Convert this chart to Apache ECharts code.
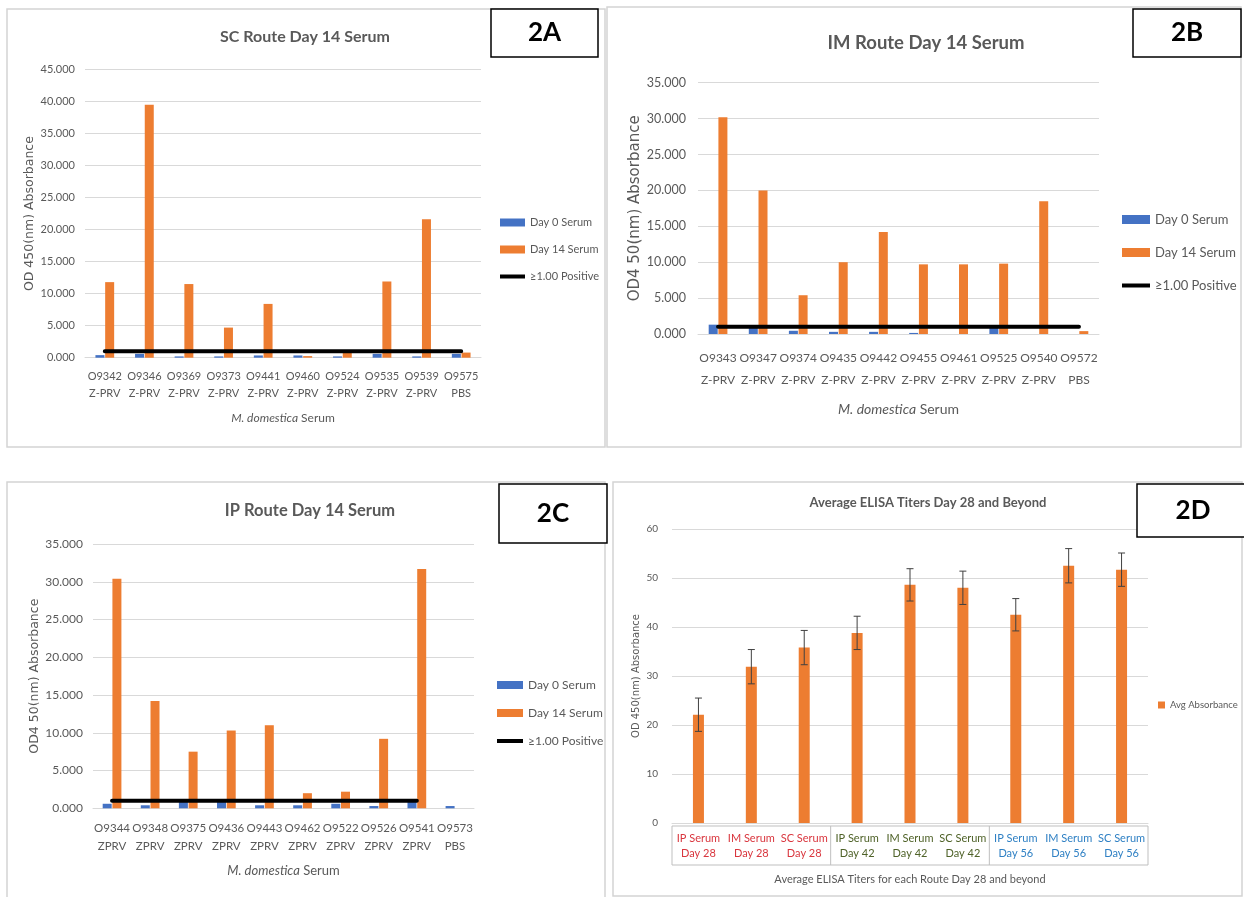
<!DOCTYPE html>
<html><head><meta charset="utf-8">
<script src="https://cdn.jsdelivr.net/npm/echarts@6/dist/echarts.min.js"></script>
<style>html,body{margin:0;padding:0;background:#fff}#c{width:1244px;height:897px}</style>
</head><body><div id="c"></div><script>
// ---------- DATA ----------
const catsA = ['O9342\nZ-PRV','O9346\nZ-PRV','O9369\nZ-PRV','O9373\nZ-PRV','O9441\nZ-PRV','O9460\nZ-PRV','O9524\nZ-PRV','O9535\nZ-PRV','O9539\nZ-PRV','O9575\nPBS'];
const day0A  = [0.4, 0.6, 0.2, 0.2, 0.35, 0.35, 0.2, 0.6, 0.2, 0.6];
const day14A = [11.8, 39.5, 11.5, 4.7, 8.4, 0.25, 1.1, 11.9, 21.6, 0.8];
const posA   = [1, 1, 1, 1, 1, 1, 1, 1, 1, 1];

const catsB = ['O9343\nZ-PRV','O9347\nZ-PRV','O9374\nZ-PRV','O9435\nZ-PRV','O9442\nZ-PRV','O9455\nZ-PRV','O9461\nZ-PRV','O9525\nZ-PRV','O9540\nZ-PRV','O9572\nPBS'];
const day0B  = [1.3, 0.9, 0.45, 0.3, 0.3, 0.15, 0, 0.9, 0, 0];
const day14B = [30.2, 20.0, 5.4, 10.0, 14.2, 9.7, 9.7, 9.8, 18.5, 0.4];
const posB   = [1, 1, 1, 1, 1, 1, 1, 1, 1, 1];

const catsC = ['O9344\nZPRV','O9348\nZPRV','O9375\nZPRV','O9436\nZPRV','O9443\nZPRV','O9462\nZPRV','O9522\nZPRV','O9526\nZPRV','O9541\nZPRV','O9573\nPBS'];
const day0C  = [0.6, 0.4, 0.9, 0.9, 0.4, 0.4, 0.6, 0.3, 0.9, 0.3];
const day14C = [30.4, 14.2, 7.5, 10.3, 11.0, 2.0, 2.2, 9.2, 31.7, 0];
const posC   = [1, 1, 1, 1, 1, 1, 1, 1, 1, null];

const catsD  = ['IP Serum\nDay 28','IM Serum\nDay 28','SC Serum\nDay 28','IP Serum\nDay 42','IM Serum\nDay 42','SC Serum\nDay 42','IP Serum\nDay 56','IM Serum\nDay 56','SC Serum\nDay 56'];
const avgD   = [22.1, 31.9, 35.8, 38.8, 48.6, 48.0, 42.5, 52.5, 51.7];
const errD   = [3.4, 3.5, 3.5, 3.4, 3.3, 3.4, 3.3, 3.5, 3.4];

// ---------- STYLE ----------
const FONT = 'Lato, "Open Sans", sans-serif';
const NFONT = '"DejaVu Sans", sans-serif';
const GRAY = '#595959';
const GRID = '#d9d9d9';
const BLUE = '#4472C4', ORANGE = '#ED7D31';

function catAxis(gi, data, size, lh, margin, nameSize, nameGap) {
  return {
    type: 'category', gridIndex: gi, data: data,
    axisLine: { lineStyle: { color: GRID, width: 1 } },
    axisTick: { show: false },
    axisLabel: { color: GRAY, fontFamily: FONT, fontSize: size, lineHeight: lh, margin: margin, interval: 0 },
    name: '{i|M. domestica} Serum', nameLocation: 'middle', nameGap: nameGap,
    nameTextStyle: { color: GRAY, fontFamily: FONT, fontSize: nameSize,
      rich: { i: { fontStyle: 'italic', color: GRAY, fontFamily: FONT, fontSize: nameSize } } }
  };
}
function valAxis(gi, max, interval, name, nameSize, nameGap, size, margin, dec) {
  return {
    type: 'value', gridIndex: gi, min: 0, max: max, interval: interval,
    axisLine: { show: false }, axisTick: { show: false },
    splitLine: { lineStyle: { color: GRID, width: 1 } },
    axisLabel: { color: GRAY, fontFamily: FONT, fontSize: size, margin: margin,
      formatter: v => v.toFixed(dec) },
    name: name, nameLocation: 'middle', nameGap: nameGap,
    nameTextStyle: { color: GRAY, fontFamily: NFONT, fontSize: nameSize }
  };
}
function barsFor(gi, d0, d14, pos) {
  return [
    { name: 'Day 0 Serum', type: 'bar', xAxisIndex: gi, yAxisIndex: gi, data: d0,
      barWidth: 9, barGap: '8%', itemStyle: { color: BLUE } },
    { name: 'Day 14 Serum', type: 'bar', xAxisIndex: gi, yAxisIndex: gi, data: d14,
      barWidth: 9, barGap: '8%', itemStyle: { color: ORANGE } },
    { name: '≥1.00 Positive', type: 'line', xAxisIndex: gi, yAxisIndex: gi, data: pos,
      symbol: 'none', z: 5, color: '#000', lineStyle: { color: '#000', width: 4, cap: 'round' } }
  ];
}
function legendFor(left, top, w, h, gap, size) {
  const lineIcon = 'path://M0,0h' + w + 'v4h-' + w + 'z';
  return {
    orient: 'vertical', left: left, top: top, padding: 0, itemGap: gap,
    itemWidth: w, itemHeight: h, selectedMode: false,
    textStyle: { color: GRAY, fontFamily: FONT, fontSize: size },
    data: [ { name: 'Day 0 Serum', icon: 'rect' }, { name: 'Day 14 Serum', icon: 'rect' },
            { name: '≥1.00 Positive', icon: lineIcon, itemStyle: { color: '#000' } } ]
  };
}
const dayColors = ['#d9363e', '#4f6228', '#2f80c4'];

const option = {
  animation: false,
  backgroundColor: '#fff',
  title: [
    { text: 'SC Route Day 14 Serum', left: 305, top: 29, textAlign: 'center', padding: 0,
      textStyle: { color: GRAY, fontFamily: FONT, fontWeight: 'bold', fontSize: 16 } },
    { text: 'IM Route Day 14 Serum', left: 926, top: 34, textAlign: 'center', padding: 0,
      textStyle: { color: GRAY, fontFamily: FONT, fontWeight: 'bold', fontSize: 18.5 } },
    { text: 'IP Route Day 14 Serum', left: 310, top: 502, textAlign: 'center', padding: 0,
      textStyle: { color: GRAY, fontFamily: FONT, fontWeight: 'bold', fontSize: 16.5 } },
    { text: 'Average ELISA Titers Day 28 and Beyond', left: 928, top: 496, textAlign: 'center', padding: 0,
      textStyle: { color: GRAY, fontFamily: FONT, fontWeight: 'bold', fontSize: 13 } }
  ],
  legend: [
    legendFor(500, 217, 25, 8, 16, 11),
    legendFor(1122, 213, 28, 9, 20, 13),
    legendFor(497, 679, 26, 8, 16, 12),
    { orient: 'vertical', left: 1158, top: 700, padding: 0, itemWidth: 7, itemHeight: 7,
      selectedMode: false, textStyle: { color: GRAY, fontFamily: FONT, fontSize: 9.5 },
      data: [{ name: 'Avg Absorbance', icon: 'rect' }] }
  ],
  grid: [
    { left: 85, top: 69.5, width: 396, height: 288.2 },
    { left: 698, top: 82.7, width: 401, height: 251.3 },
    { left: 93, top: 544, width: 381, height: 264.3 },
    { left: 672, top: 529, width: 476, height: 294 }
  ],
  xAxis: [
    catAxis(0, catsA, 11, 17, 10, 12, 54),
    catAxis(1, catsB, 12, 22, 13, 14, 68),
    catAxis(2, catsC, 11.5, 18, 11, 13, 56),
    { type: 'category', gridIndex: 3, data: catsD,
      axisLine: { lineStyle: { color: GRID } }, axisTick: { show: false },
      axisLabel: { interval: 0, margin: 8, fontFamily: FONT, fontSize: 11, lineHeight: 15,
        formatter: (v, i) => v.split('\n').map(s => '{c' + Math.floor(i / 3) + '|' + s + '}').join('\n'),
        rich: { c0: { color: dayColors[0], fontFamily: FONT, fontSize: 11, lineHeight: 15 },
                c1: { color: dayColors[1], fontFamily: FONT, fontSize: 11, lineHeight: 15 },
                c2: { color: dayColors[2], fontFamily: FONT, fontSize: 11, lineHeight: 15 } } },
      name: 'Average ELISA Titers for each Route Day 28 and beyond', nameLocation: 'middle', nameGap: 51,
      nameTextStyle: { color: GRAY, fontFamily: FONT, fontSize: 11 } }
  ],
  yAxis: [
    valAxis(0, 45, 5, 'OD 450(nm) Absorbance', 12.5, 47, 11, 10, 3),
    valAxis(1, 35, 5, 'OD4 50(nm) Absorbance', 15, 54, 12.5, 12, 3),
    valAxis(2, 35, 5, 'OD4 50(nm) Absorbance', 12.5, 52, 12, 10, 3),
    valAxis(3, 60, 10, 'OD 450(nm) Absorbance', 10, 31, 10, 14, 0)
  ],
  series: [
    ...barsFor(0, day0A, day14A, posA),
    ...barsFor(1, day0B, day14B, posB),
    ...barsFor(2, day0C, day14C, posC),
    { name: 'Avg Absorbance', type: 'bar', xAxisIndex: 3, yAxisIndex: 3, data: avgD,
      barWidth: 11, itemStyle: { color: ORANGE } },
    { name: 'err', type: 'custom', xAxisIndex: 3, yAxisIndex: 3, z: 5,
      data: avgD.map((v, i) => [i, v, errD[i]]),
      encode: { x: 0, y: 1 },
      renderItem: function (params, api) {
        const x = api.value(0), y = api.value(1), e = api.value(2);
        const hi = api.coord([x, y + e]), lo = api.coord([x, y - e]);
        const w = 3.5, st = { stroke: '#404040', lineWidth: 1 };
        return { type: 'group', children: [
          { type: 'line', shape: { x1: hi[0], y1: hi[1], x2: lo[0], y2: lo[1] }, style: st },
          { type: 'line', shape: { x1: hi[0] - w, y1: hi[1], x2: hi[0] + w, y2: hi[1] }, style: st },
          { type: 'line', shape: { x1: lo[0] - w, y1: lo[1], x2: lo[0] + w, y2: lo[1] }, style: st }
        ] };
      } }
  ]
};

const chart = echarts.init(document.getElementById('c'), null, { renderer: 'canvas' });
chart.setOption(option);

// ---------- decorations: panel frames, panel tags, 2D label box ----------
function frame(x, y, w, h) {
  return { type: 'rect', z: -10, shape: { x: x, y: y, width: w, height: h },
    style: { fill: null, stroke: '#d4d4d4', lineWidth: 1.5 } };
}
function tag(text, x, y, w, h) {
  return [
    { type: 'rect', z: 10, shape: { x: x, y: y, width: w, height: h },
      style: { fill: '#fff', stroke: '#000', lineWidth: 1.5 } },
    { type: 'text', z: 11, x: x + w / 2, y: y + h / 2,
      style: { text: text, fill: '#000', font: 'bold 26px ' + FONT, align: 'center', verticalAlign: 'middle' } }
  ];
}
const px = i => chart.convertToPixel({ xAxisIndex: 3 }, i);
const band = px(1) - px(0);
const bx0 = px(0) - band / 2, bx1 = px(catsD.length - 1) + band / 2;
const base = chart.convertToPixel({ yAxisIndex: 3 }, 0);
const by0 = base + 3, by1 = base + 42;
const boxEls = [
  { type: 'rect', shape: { x: bx0, y: by0, width: bx1 - bx0, height: by1 - by0 },
    style: { fill: null, stroke: '#bfbfbf', lineWidth: 1 } }
];
[3, 6].forEach(k => {
  const xx = px(k) - band / 2;
  boxEls.push({ type: 'line', shape: { x1: xx, y1: by0, x2: xx, y2: by1 },
    style: { stroke: '#bfbfbf', lineWidth: 1 } });
});

chart.setOption({ graphic: { elements: [
  frame(7, 9, 598, 438), frame(607, 7, 634, 440), frame(7, 482, 598, 430), frame(613, 482, 629, 414),
  ...tag('2A', 491, 9, 107, 48), ...tag('2B', 1133, 9, 108, 48),
  ...tag('2C', 499, 484, 108, 59), ...tag('2D', 1137, 484, 112, 53),
  ...boxEls
] } });
</script></body></html>
